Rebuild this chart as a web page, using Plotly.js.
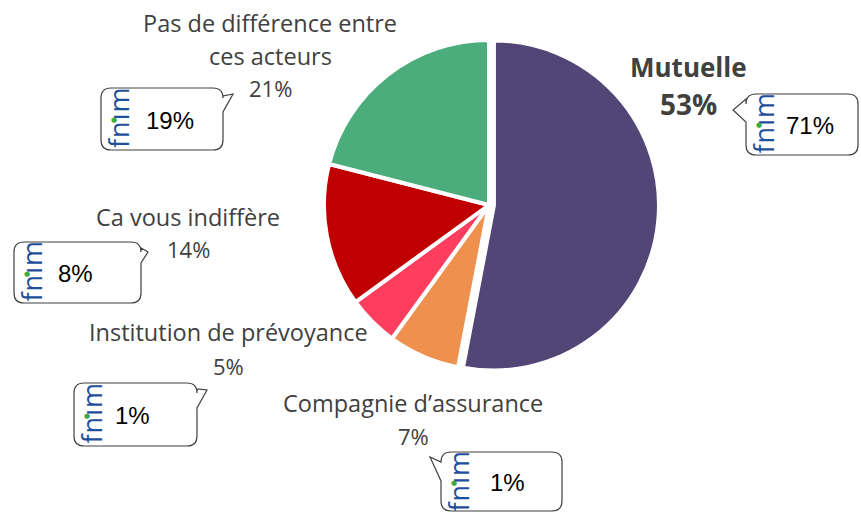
<!DOCTYPE html>
<html>
<head>
<meta charset="utf-8">
<script src="https://cdn.plot.ly/plotly-3.0.1.min.js"></script>
<style>html,body{margin:0;padding:0;background:#fff;}#chart{width:861px;height:513px;}</style>
</head>
<body>
<div id="chart"></div>
<script>
// ---- data ----
var categories = ["Mutuelle", "Compagnie d’assurance", "Institution de prévoyance", "Ca vous indiffère", "Pas de différence entre<br>ces acteurs"];
var shares = [53, 7, 5, 14, 21];
var fnimShares = [71, 1, 1, 8, 19];

// ---- styles / layout positions (pixels) ----
var W = 861, H = 513;
var colors = ["#524677", "#EE914F", "#FF3E5F", "#C00000", "#4AAD7B"];
var pulls = [0.03, 0, 0, 0, 0];
var labelPos = [
  {x: 688, y: 67, step: 33, py: 104, size: 26, psize: 28, bold: true},
  {x: 413, y: 403, step: 33, py: 436, size: 23.5, psize: 22, bold: false},
  {x: 228, y: 332, step: 33, py: 366, size: 23.5, psize: 22, bold: false},
  {x: 188, y: 217, step: 33, py: 249, size: 23.5, psize: 22, bold: false},
  {x: 270, y: 23, step: 33, py: 88, size: 23.5, psize: 22, bold: false}
];
var boxes = [
  {x0: 746, y0: 94, x1: 858, y1: 155, side: "left", a: 122, b: 99, tx: 733, ty: 110, px: 64},
  {x0: 441, y0: 452, x1: 562, y1: 511, side: "left", a: 481, b: 462, tx: 430, ty: 457, px: 66},
  {x0: 74, y0: 383, x1: 197, y1: 446, side: "right", a: 389, b: 408, tx: 207, ty: 390, px: 58},
  {x0: 14, y0: 242, x1: 141, y1: 303, side: "right", a: 248, b: 263, tx: 148, ty: 252, px: 61},
  {x0: 101, y0: 88, x1: 223, y1: 150, side: "right", a: 96, b: 112, tx: 233, ty: 94, px: 69}
];

function X(p) { return p / W; }
function Y(p) { return 1 - p / H; }
function pt(x, y) { return X(x).toFixed(5) + "," + Y(y).toFixed(5); }

function calloutPath(b) {
  var r = 10, s = "";
  s += "M" + pt(b.x0 + r, b.y0);
  s += " L" + pt(b.x1 - r, b.y0);
  s += " Q" + pt(b.x1, b.y0) + " " + pt(b.x1, b.y0 + r);
  if (b.side === "right") {
    s += " L" + pt(b.x1, b.a) + " L" + pt(b.tx, b.ty) + " L" + pt(b.x1, b.b);
  }
  s += " L" + pt(b.x1, b.y1 - r);
  s += " Q" + pt(b.x1, b.y1) + " " + pt(b.x1 - r, b.y1);
  s += " L" + pt(b.x0 + r, b.y1);
  s += " Q" + pt(b.x0, b.y1) + " " + pt(b.x0, b.y1 - r);
  if (b.side === "left") {
    s += " L" + pt(b.x0, b.a) + " L" + pt(b.tx, b.ty) + " L" + pt(b.x0, b.b);
  }
  s += " L" + pt(b.x0, b.y0 + r);
  s += " Q" + pt(b.x0, b.y0) + " " + pt(b.x0 + r, b.y0);
  s += " Z";
  return s;
}

var cx = 489, cy = 205, half = 170;
var trace = {
  type: "pie",
  labels: categories,
  values: shares,
  sort: false,
  direction: "clockwise",
  rotation: 0,
  pull: pulls,
  textinfo: "none",
  hoverinfo: "label+percent",
  marker: {colors: colors, line: {color: "#ffffff", width: 4}},
  domain: {x: [X(cx - half), X(cx + half)], y: [Y(cy + half), Y(cy - half)]},
  showlegend: false
};

var annotations = [];
var shapes = [];
var labelColor = "#404040";
for (var i = 0; i < categories.length; i++) {
  var lp = labelPos[i];
  var lines = categories[i].split("<br>");
  for (var j = 0; j < lines.length; j++) {
    annotations.push({
      xref: "paper", yref: "paper", x: X(lp.x), y: Y(lp.y + j * lp.step),
      xanchor: "center", yanchor: "middle", showarrow: false,
      text: lp.bold ? "<b>" + lines[j] + "</b>" : lines[j],
      font: {family: "Open Sans, sans-serif", size: lp.size, color: labelColor}
    });
  }
  annotations.push({
    xref: "paper", yref: "paper", x: X(lp.x), y: Y(lp.py),
    xanchor: "center", yanchor: "middle", showarrow: false,
    text: lp.bold ? "<b>" + shares[i] + "%</b>" : shares[i] + "%",
    font: {family: "Open Sans, sans-serif", size: lp.psize, color: labelColor}
  });

  var b = boxes[i];
  shapes.push({
    type: "path", xref: "paper", yref: "paper", path: calloutPath(b),
    fillcolor: "#ffffff", line: {color: "#404040", width: 1.2}
  });
  var my = (b.y0 + b.y1) / 2;
  annotations.push({
    xref: "paper", yref: "paper", x: X(b.x0 + 17), y: Y(my - 1),
    xanchor: "center", yanchor: "middle", showarrow: false, textangle: -90,
    text: "<span style=\"letter-spacing:1px\">fnım</span>",
    font: {family: "Open Sans, sans-serif", size: 27, color: "#1F4E9A"}
  });
  annotations.push({
    xref: "paper", yref: "paper", x: X(b.x0 + 13), y: Y(my + 1),
    xanchor: "center", yanchor: "middle", showarrow: false,
    text: "●",
    font: {family: "DejaVu Sans, sans-serif", size: 7, color: "#3DAA3D"}
  });
  annotations.push({
    xref: "paper", yref: "paper", x: X(b.x0 + b.px), y: Y(my + 1),
    xanchor: "center", yanchor: "middle", showarrow: false,
    text: fnimShares[i] + "%",
    font: {family: "Liberation Sans, Arial, sans-serif", size: 24, color: "#000000"}
  });
}

var layout = {
  width: W, height: H,
  margin: {l: 0, r: 0, t: 0, b: 0},
  paper_bgcolor: "#ffffff",
  plot_bgcolor: "#ffffff",
  showlegend: false,
  annotations: annotations,
  shapes: shapes
};

Plotly.newPlot("chart", [trace], layout, {displayModeBar: false, staticPlot: true});
</script>
</body>
</html>
